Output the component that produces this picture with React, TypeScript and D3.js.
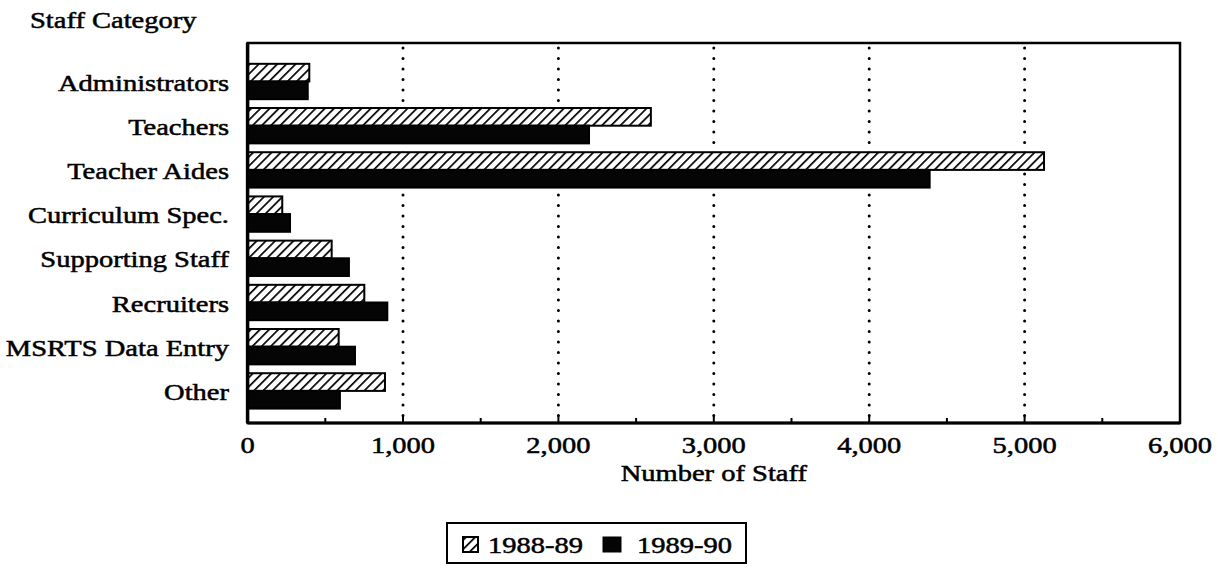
import React from "react";
import * as d3 from "d3";

const categories = [
  "Administrators",
  "Teachers",
  "Teacher Aides",
  "Curriculum Spec.",
  "Supporting Staff",
  "Recruiters",
  "MSRTS Data Entry",
  "Other",
];
const seriesNames = ["1988-89", "1989-90"];
const values1988 = [397, 2595, 5125, 223, 541, 751, 586, 884];
const values1989 = [387, 2197, 4389, 273, 652, 899, 691, 594];
const xTicks = [0, 1000, 2000, 3000, 4000, 5000, 6000];
const minorTicks = [500, 1500, 2500, 3500, 4500, 5500];
const xTitle = "Number of Staff";
const yTitle = "Staff Category";

const W = 1218;
const H = 569;
const FONT = "'Liberation Serif', 'Times New Roman', serif";
const SX = 1.24;

function T({ x, y, anchor = "start", size = 23, children }: any) {
  return (
    <g transform={`translate(${x},${y}) scale(${SX},1)`}>
      <text
        x={0}
        y={0}
        textAnchor={anchor}
        fontFamily={FONT}
        fontSize={size}
        fill="#000"
        stroke="#000"
        strokeWidth={0.5}
      >
        {children}
      </text>
    </g>
  );
}

export default function App() {
  const left = 247.6;
  const right = 1180;
  const top = 43;
  const bottom = 423;

  const x = d3.scaleLinear().domain([0, 6000]).range([left, right]);
  const y = d3
    .scaleBand<string>()
    .domain(categories)
    .range([59.4, 413])
    .paddingInner(0.2)
    .paddingOuter(0.1);
  const sub = d3.scaleBand<string>().domain(seriesNames).range([0, y.bandwidth()]);

  const rows = categories.map((c, i) => ({ c, v: [values1988[i], values1989[i]] }));

  const grid = xTicks.filter((t) => t > 0 && t < 6000);

  return (
    <svg
      width={W}
      height={H}
      viewBox={`0 0 ${W} ${H}`}
      style={{ position: "absolute", left: 0, top: 0, background: "#fff" }}
    >
      <defs>
        <pattern id="hatch" patternUnits="userSpaceOnUse" width={6.5} height={6.5} patternTransform="rotate(45)">
          <rect width={6.5} height={6.5} fill="#fff" />
          <line x1={0} y1={0} x2={0} y2={6.5} stroke="#000" strokeWidth={3.4} />
        </pattern>
      </defs>
      <rect x={0} y={0} width={W} height={H} fill="#fff" />

      {/* y title */}
      <T x={30} y={28}>{yTitle}</T>

      {/* gridlines */}
      {grid.map((t) => (
        <line
          key={"g" + t}
          x1={x(t)}
          x2={x(t)}
          y1={top + 5}
          y2={bottom - 4}
          stroke="#000"
          strokeWidth={3}
          strokeLinecap="round"
          strokeDasharray="0 10.5"
        />
      ))}

      {/* bars */}
      {rows.map((r) =>
        seriesNames.map((s, j) => {
          const y0 = (y(r.c) as number) + (sub(s) as number);
          return (
            <rect
              key={r.c + s}
              x={x(0)}
              y={y0}
              width={x(r.v[j]) - x(0)}
              height={sub.bandwidth()}
              fill={j === 0 ? "url(#hatch)" : "#050505"}
              stroke="#000"
              strokeWidth={2}
            />
          );
        })
      )}

      {/* frame */}
      <rect x={left} y={top} width={right - left} height={bottom - top} fill="none" stroke="#000" strokeWidth={2.5} />
      <line x1={left} x2={left} y1={top} y2={bottom} stroke="#000" strokeWidth={3.5} />
      <line x1={left} x2={right} y1={bottom} y2={bottom} stroke="#000" strokeWidth={3} />

      {/* ticks */}
      {xTicks.map((t) => (
        <line key={"t" + t} x1={x(t)} x2={x(t)} y1={bottom} y2={bottom - 8} stroke="#000" strokeWidth={2} />
      ))}
      {minorTicks.map((t) => (
        <line key={"m" + t} x1={x(t)} x2={x(t)} y1={bottom} y2={bottom - 5} stroke="#000" strokeWidth={2} />
      ))}

      {/* tick labels */}
      {xTicks.map((t) => (
        <T key={"l" + t} x={x(t)} y={453} anchor="middle">
          {d3.format(",")(t)}
        </T>
      ))}

      {/* x title */}
      <T x={(left + right) / 2} y={481} anchor="middle">{xTitle}</T>

      {/* category labels */}
      {categories.map((c) => (
        <T key={"c" + c} x={229} y={(y(c) as number) + y.bandwidth() / 2 + 9} anchor="end">
          {c}
        </T>
      ))}

      {/* legend */}
      <rect x={447} y={523} width={299} height={40} fill="#fff" stroke="#000" strokeWidth={2} />
      <rect x={463} y={537} width={15} height={15} fill="url(#hatch)" stroke="#000" strokeWidth={2} />
      <T x={488} y={553}>{seriesNames[0]}</T>
      <rect x={603} y={537} width={18} height={15} fill="#050505" stroke="#000" strokeWidth={1} />
      <T x={637} y={553}>{seriesNames[1]}</T>
    </svg>
  );
}
